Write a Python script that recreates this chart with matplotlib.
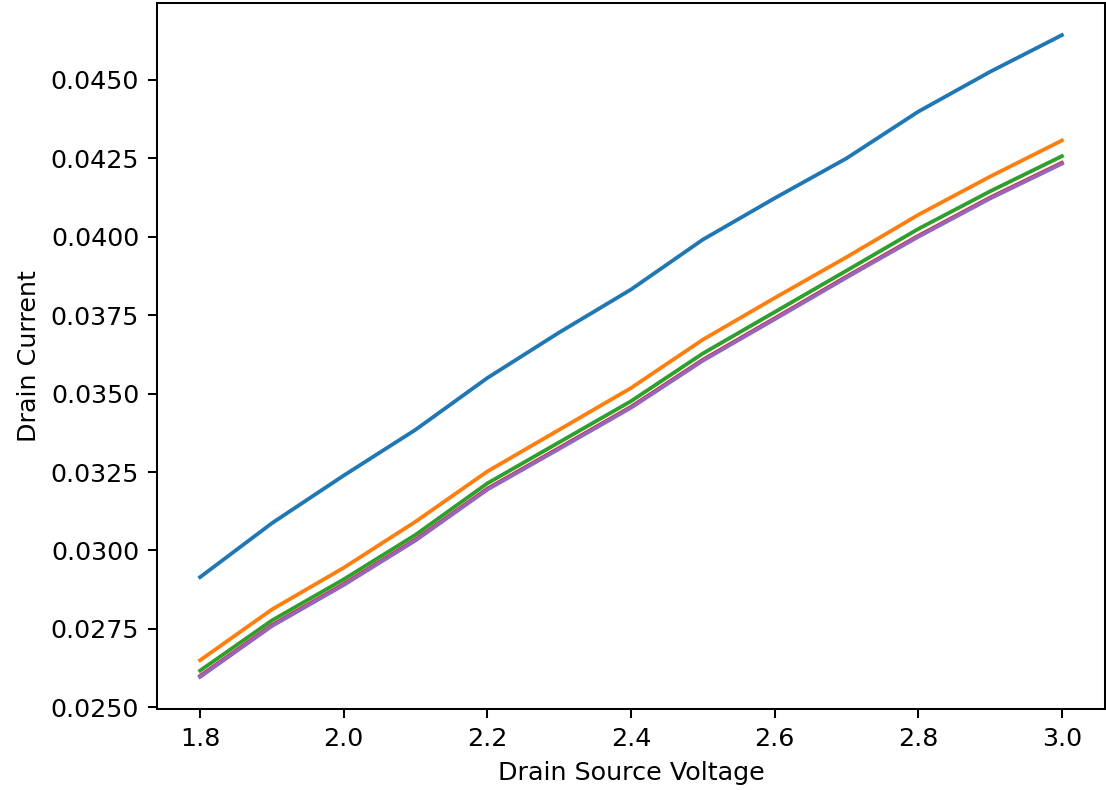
import matplotlib
matplotlib.use('Agg')
import matplotlib.pyplot as plt
from matplotlib.ticker import MultipleLocator, FormatStrFormatter

# drain source voltage sweep
vds = [1.8, 1.9, 2.0, 2.1, 2.2, 2.3, 2.4, 2.5, 2.6, 2.7, 2.8, 2.9, 3.0]

# drain current curves
id_1 = [0.02915, 0.03087, 0.03239, 0.03385, 0.03550, 0.03695, 0.03832,
        0.03991, 0.04123, 0.04250, 0.04399, 0.04526, 0.04643]
id_2 = [0.02650, 0.02812, 0.02945, 0.03092, 0.03252, 0.03385, 0.03518,
        0.03672, 0.03805, 0.03935, 0.04070, 0.04192, 0.04307]
id_3 = [0.02617, 0.02777, 0.02908, 0.03050, 0.03214, 0.03345, 0.03476,
        0.03628, 0.03760, 0.03892, 0.04025, 0.04145, 0.04257]
id_4 = [0.02600, 0.02762, 0.02893, 0.03035, 0.03197, 0.03327, 0.03458,
        0.03608, 0.03740, 0.03873, 0.04003, 0.04125, 0.04236]
id_5 = [0.02597, 0.02759, 0.02890, 0.03032, 0.03194, 0.03324, 0.03455,
        0.03605, 0.03737, 0.03870, 0.04000, 0.04122, 0.04233]

fig = plt.figure(figsize=(1106 / 183, 790 / 183), dpi=183)
ax = fig.add_axes([157 / 1106, 81 / 790, 948 / 1106, 706 / 790])

for curve in [id_1, id_2, id_3, id_4, id_5]:
    ax.plot(vds, curve)

# y ticks every 0.0025, four decimals
ax.yaxis.set_major_locator(MultipleLocator(0.0025))
ax.yaxis.set_major_formatter(FormatStrFormatter('%.4f'))

ax.set_xlabel('Drain Source Voltage')
ax.set_ylabel('Drain Current')

fig.savefig('out.png', dpi=183)
